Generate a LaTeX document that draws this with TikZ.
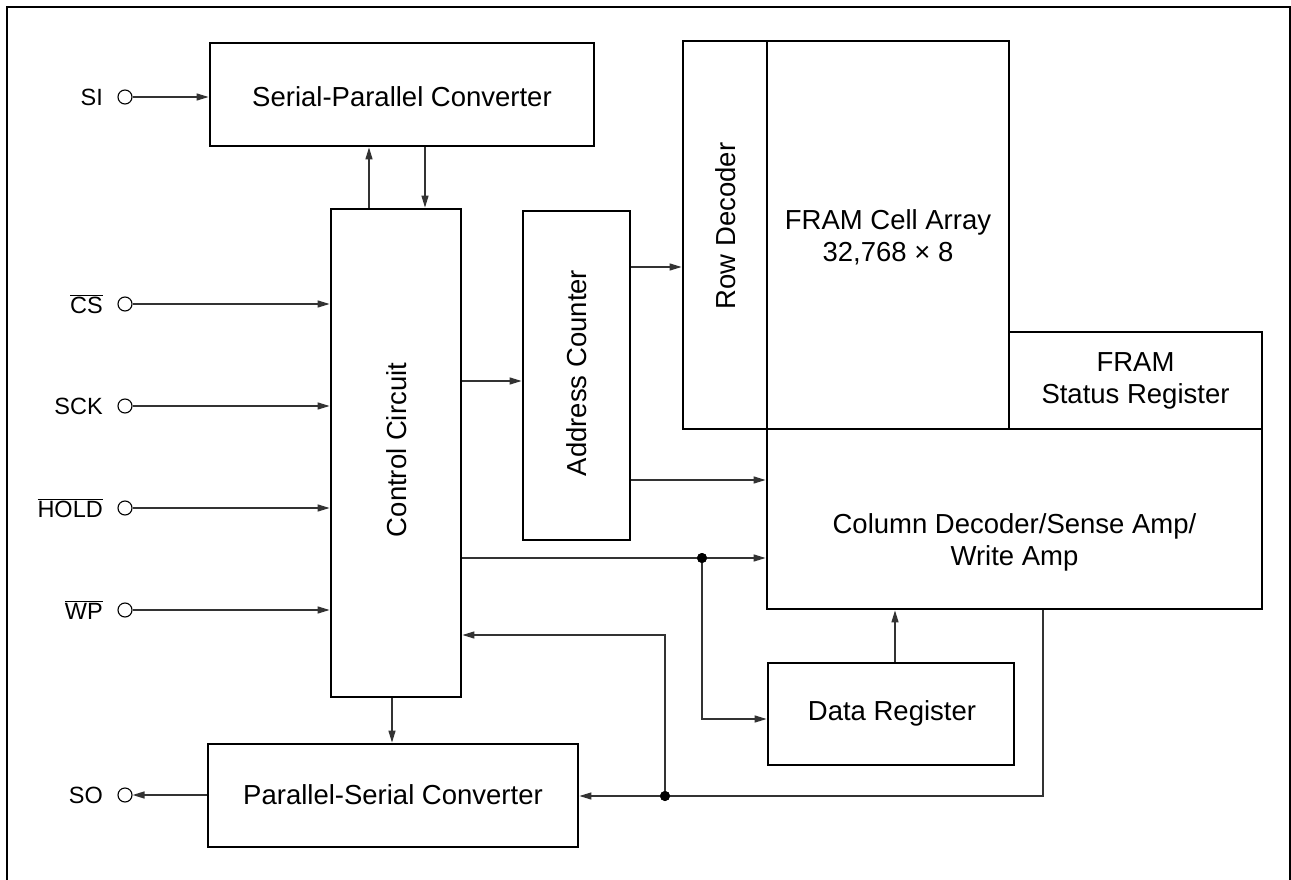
\documentclass[tikz,border=0pt]{standalone}
\usepackage{fontspec}
\setmainfont{Liberation Sans}
\usetikzlibrary{arrows.meta}
\begin{document}
\begin{tikzpicture}[x=1pt,y=-1pt,
  box/.style={draw=black,line width=2.8pt,inner sep=0pt,font=\fontsize{27.5}{32}\selectfont,align=center},
  lbl/.style={inner sep=0pt,font=\fontsize{27.5}{32}\selectfont,align=center},
  pinlbl/.style={inner sep=0pt,anchor=east,font=\fontsize{23.5}{27}\selectfont},
  pin/.style={circle,draw=black,line width=1.1pt,fill=white,minimum size=14pt,inner sep=0pt},
  conn/.style={draw=black!80,line width=1.3pt},
  arr/.style={conn,-{Triangle[length=12pt,width=7pt]}},
  dot/.style={circle,fill=black,minimum size=10pt,inner sep=0pt}
]
\useasboundingbox (0,0) rectangle (1291,880);
\draw[line width=2.6pt] (7,885) -- (7,7) -- (1290,7) -- (1290,885);

% blocks
\node[box,minimum width=384pt,minimum height=103pt] (spc) at (402,94.5) {};
\node[lbl] (spct) at (402,97) {Serial-Parallel Converter};
\node[box,minimum width=130pt,minimum height=488pt] (ctrl) at (396,453) {};
\node[lbl,rotate=90] (ctrlt) at (397,450) {Control Circuit};
\node[box,minimum width=370pt,minimum height=103pt] (psc) at (393,795.5) {};
\node[lbl] (psct) at (393,795) {Parallel-Serial Converter};
\node[box,minimum width=107pt,minimum height=329pt] (ac) at (576.5,375.5) {};
\node[lbl,rotate=90] (act) at (577,373) {Address Counter};
\node[box,minimum width=84pt,minimum height=388pt] (rd) at (725,235) {};
\node[lbl,rotate=90] (rdt) at (726,226) {Row Decoder};
\node[box,minimum width=242pt,minimum height=388pt] (fca) at (888,235) {};
\node[lbl] (fcat) at (888,237) {FRAM Cell Array\\32,768 × 8};
\node[box,minimum width=253pt,minimum height=97pt] (sr) at (1135.5,380.5) {};
\node[lbl] (srt) at (1135.5,381) {FRAM\\Status Register};
\node[box,minimum width=495pt,minimum height=180pt] (cd) at (1014.5,519) {};
\node[lbl] (cdt) at (1014.5,542) {Column Decoder/Sense Amp/\\Write Amp};
\node[box,minimum width=246pt,minimum height=102pt] (dr) at (891,714) {};
\node[lbl] (drt) at (892,713) {Data Register};

% pins
\node[pin] (pSI) at (125,97) {};
\node[pinlbl] (lSI) at (103,97) {SI};
\node[pin] (pCS) at (125,304) {};
\node[pinlbl] (lCS) at (103,304) {$\overline{\hbox{CS}}$};
\node[pin] (pSCK) at (125,406) {};
\node[pinlbl] (lSCK) at (103,406) {SCK};
\node[pin] (pHOLD) at (125,508) {};
\node[pinlbl] (lHOLD) at (103,508) {$\overline{\hbox{HOLD}}$};
\node[pin] (pWP) at (125,610) {};
\node[pinlbl] (lWP) at (103,610) {$\overline{\hbox{WP}}$};
\node[pin] (pSO) at (125,795) {};
\node[pinlbl] (lSO) at (103,795) {SO};

% helper coordinates
\coordinate (xUp) at (369,0);
\coordinate (xDn) at (425,0);
\coordinate (xPs) at (392,0);
\coordinate (yAC) at (0,381);
\coordinate (yRD) at (0,267);
\coordinate (yCD) at (0,480);
\coordinate (yBus) at (0,558);
\coordinate (yFb) at (0,635);
\coordinate (yDR) at (0,719);
\coordinate (yOut) at (0,796);
\coordinate (xDR) at (895,0);
\coordinate (xCDo) at (1043,0);
\node[dot] (j1) at (702,558) {};
\node[dot] (j2) at (665,796) {};

% connectors
\draw[arr] (pSI.east) -- (pSI -| spc.west);
\draw[arr] (pCS.east) -- (pCS -| ctrl.west);
\draw[arr] (pSCK.east) -- (pSCK -| ctrl.west);
\draw[arr] (pHOLD.east) -- (pHOLD -| ctrl.west);
\draw[arr] (pWP.east) -- (pWP -| ctrl.west);
\draw[arr] (ctrl.north -| xUp) -- (spc.south -| xUp);
\draw[arr] (spc.south -| xDn) -- (ctrl.north -| xDn);
\draw[arr] (ctrl.south -| xPs) -- (psc.north -| xPs);
\draw[arr] (psc.west |- pSO) -- (pSO.east);
\draw[arr] (ctrl.east |- yAC) -- (ac.west |- yAC);
\draw[arr] (ac.east |- yRD) -- (rd.west |- yRD);
\draw[arr] (ac.east |- yCD) -- (cd.west |- yCD);
\draw[arr] (ctrl.east |- yBus) -- (j1.center) -- (cd.west |- yBus);
\draw[arr] (j1.center) -- (j1 |- yDR) -- (dr.west |- yDR);
\draw[arr] (dr.north -| xDR) -- (cd.south -| xDR);
\draw[arr] (cd.south -| xCDo) -- (xCDo |- yOut) -- (j2.center) -- (psc.east |- yOut);
\draw[arr] (j2.center) -- (j2 |- yFb) -- (ctrl.east |- yFb);
\node[dot] at (j1) {};
\node[dot] at (j2) {};
\end{tikzpicture}
\end{document}
